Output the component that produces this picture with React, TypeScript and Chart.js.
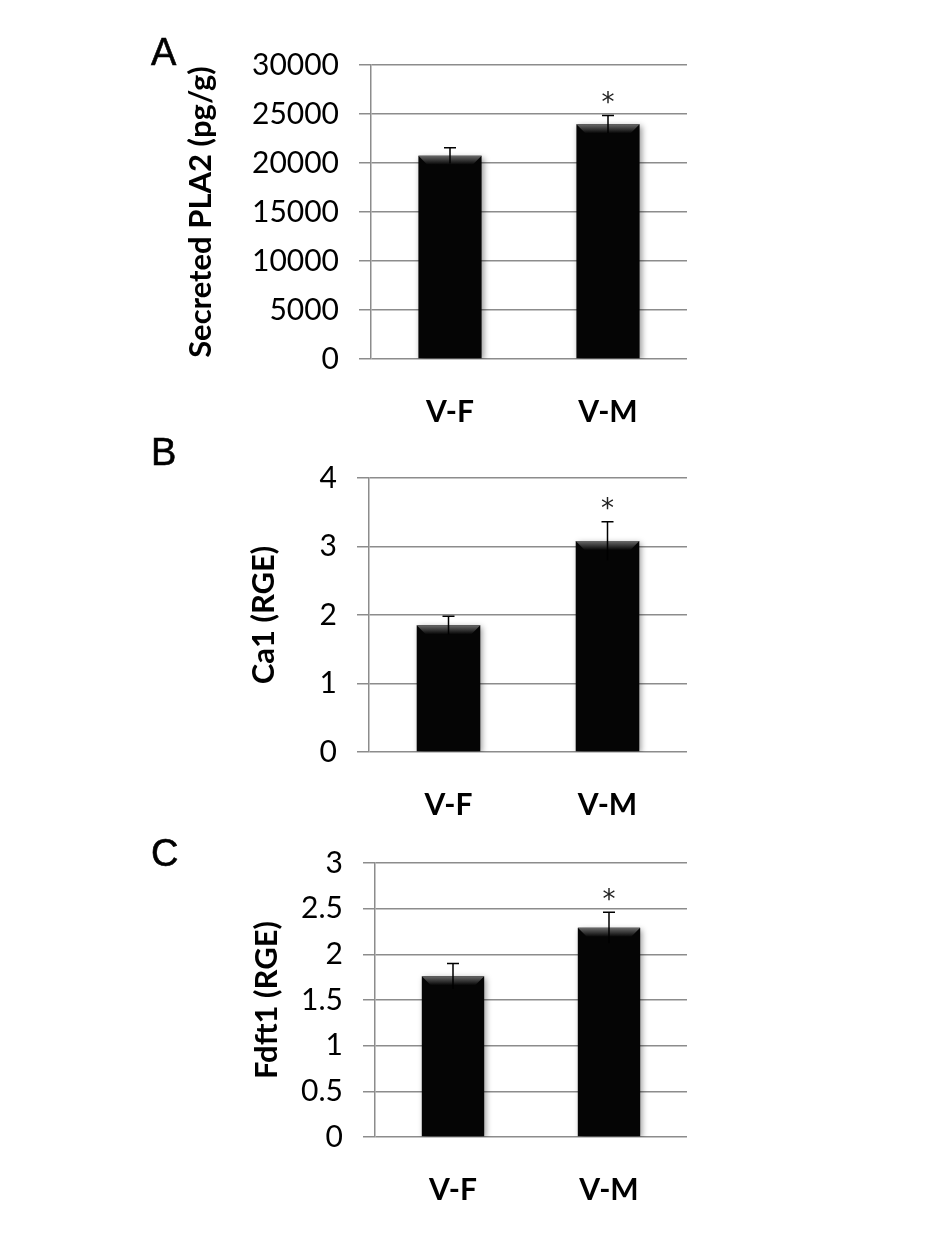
import React, { useEffect, useRef } from 'react';
import { Chart, registerables } from 'chart.js';

Chart.register(...registerables);

// ---- data ----
const categories = ['V-F', 'V-M'];

const pla2Values = [20750, 23950];
const pla2Errors = [800, 900];
const pla2Ticks = [0, 5000, 10000, 15000, 20000, 25000, 30000];

const ca1Values = [1.85, 3.08];
const ca1Errors = [0.13, 0.28];
const ca1Ticks = [0, 1, 2, 3, 4];

const fdft1Values = [1.76, 2.29];
const fdft1Errors = [0.14, 0.17];
const fdft1Ticks = [0, 0.5, 1, 1.5, 2, 2.5, 3];

const significant = [false, true];

const panelLetters = ['A', 'B', 'C'];
const axisTitles = ['Secreted PLA2 (pg/g)', 'Ca1 (RGE)', 'Fdft1 (RGE)'];

// ---- layout (page pixels) ----
const PAGE_W = 945;
const PAGE_H = 1242;
const layouts = [
  { canvasTop: 0, canvasH: 440, left: 371, right: 687, top: 65, bottom: 359, titleX: 201, letterLeft: 151, letterTop: 33 },
  { canvasTop: 440, canvasH: 385, left: 369, right: 687, top: 466, bottom: 752, titleX: 264, letterLeft: 151, letterTop: 433 },
  { canvasTop: 825, canvasH: 417, left: 375, right: 687, top: 854, bottom: 1137, titleX: 267, letterLeft: 151, letterTop: 834 },
];

const TITLE_SIZE = 31;

function Panel(props: { values: number[]; errors: number[]; ticks: number[]; title: string; layout: any }) {
  const { values, errors, ticks, title, layout: L } = props;
  const ref = useRef<HTMLCanvasElement>(null);

  useEffect(() => {
    const canvas = ref.current as HTMLCanvasElement;
    const overlay = {
      id: 'overlay',
      beforeDatasetsDraw(chart: any) {
        const c = chart.ctx;
        c.save();
        c.shadowColor = 'rgba(0,0,0,0.4)';
        c.shadowBlur = 6;
        c.shadowOffsetX = 2;
        c.shadowOffsetY = 2;
      },
      afterDatasetsDraw(chart: any) {
        const c = chart.ctx;
        c.restore();
        const meta = chart.getDatasetMeta(0);
        const ys = chart.scales.y;
        meta.data.forEach((bar: any, i: number) => {
          const p = bar.getProps(['x', 'y', 'width'], true);
          const x = p.x, top = p.y, w = p.width;
          const l = x - w / 2, r = x + w / 2;
          const bev = 9;
          const g = c.createLinearGradient(0, top, 0, top + bev);
          g.addColorStop(0, '#6a6a6a');
          g.addColorStop(1, '#050505');
          c.save();
          c.fillStyle = g;
          c.beginPath();
          c.moveTo(l, top);
          c.lineTo(r, top);
          c.lineTo(r - bev, top + bev);
          c.lineTo(l + bev, top + bev);
          c.closePath();
          c.fill();
          c.restore();

          const hi = ys.getPixelForValue(values[i] + errors[i]);
          const lo = ys.getPixelForValue(values[i] - errors[i]);
          c.save();
          c.strokeStyle = '#000';
          c.lineWidth = 1.5;
          c.beginPath();
          c.moveTo(x, lo);
          c.lineTo(x, hi);
          c.moveTo(x - 6, hi);
          c.lineTo(x + 6, hi);
          c.stroke();
          c.restore();

          if (significant[i]) {
            c.save();
            c.fillStyle = '#222';
            c.font = "26px 'DejaVu Sans'";
            c.textAlign = 'center';
            c.textBaseline = 'alphabetic';
            c.fillText('*', x, hi - 4.5);
            c.restore();
          }
        });
      },
    };

    const chart = new Chart(canvas, {
      type: 'bar',
      data: {
        labels: categories,
        datasets: [
          {
            data: values,
            backgroundColor: '#050505',
            borderWidth: 0,
            barPercentage: 0.4,
            categoryPercentage: 1,
          },
        ],
      },
      options: {
        responsive: false,
        animation: false,
        events: [],
        layout: { padding: { left: 0, right: PAGE_W - L.right, top: L.top - L.canvasTop, bottom: 0 } },
        plugins: { legend: { display: false }, tooltip: { enabled: false } },
        scales: {
          x: {
            grid: { display: false, drawTicks: false },
            border: { display: false },
            ticks: { color: '#000', font: { family: 'Lato', size: 30, weight: 'bold' }, padding: 35 },
            afterFit: (s: any) => {
              s.height = L.canvasTop + L.canvasH - L.bottom;
            },
          },
          y: {
            min: ticks[0],
            max: ticks[ticks.length - 1],
            afterBuildTicks: (s: any) => {
              s.ticks = ticks.map((v) => ({ value: v }));
            },
            ticks: { color: '#000', font: { family: 'Lato', size: 30 }, padding: 20, callback: (v: any) => String(v) },
            grid: { color: '#8c8c8c', lineWidth: 1.5, tickLength: 12 },
            border: { display: true, color: '#8c8c8c', width: 1.5 },
            title: {
              display: true,
              text: title,
              color: '#000',
              font: { family: 'Lato', size: TITLE_SIZE, weight: 'bold' },
              padding: { top: L.titleX - (TITLE_SIZE * 1.2) / 2, bottom: 0 },
            },
            afterFit: (s: any) => {
              s.width = L.left;
            },
          },
        },
      } as any,
      plugins: [overlay],
    });
    return () => chart.destroy();
  }, []);

  return (
    <canvas
      ref={ref}
      width={PAGE_W}
      height={L.canvasH}
      style={{ position: 'absolute', left: 0, top: L.canvasTop, width: PAGE_W, height: L.canvasH }}
    />
  );
}

export default function App() {
  const valueSets = [pla2Values, ca1Values, fdft1Values];
  const errorSets = [pla2Errors, ca1Errors, fdft1Errors];
  const tickSets = [pla2Ticks, ca1Ticks, fdft1Ticks];
  return (
    <div style={{ position: 'absolute', left: 0, top: 0, width: PAGE_W, height: PAGE_H, background: '#fff', overflow: 'hidden' }}>
      {layouts.map((L, i) => (
        <Panel key={i} values={valueSets[i]} errors={errorSets[i]} ticks={tickSets[i]} title={axisTitles[i]} layout={L} />
      ))}
      {layouts.map((L, i) => (
        <div
          key={'l' + i}
          style={{
            position: 'absolute',
            left: L.letterLeft,
            top: L.letterTop,
            fontFamily: "'Liberation Sans', Arial, sans-serif",
            fontSize: 38,
            fontWeight: 500,
            lineHeight: '38px',
            color: '#000',
            WebkitTextStroke: '0.6px #000',
          }}
        >
          {panelLetters[i]}
        </div>
      ))}
    </div>
  );
}
